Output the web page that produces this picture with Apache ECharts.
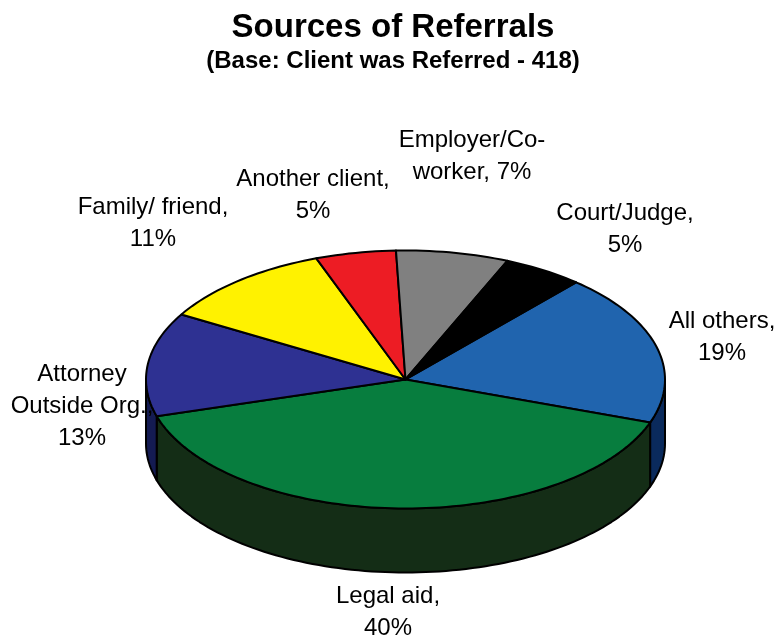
<!DOCTYPE html>
<html>
<head>
<meta charset="utf-8">
<style>html,body{margin:0;padding:0;background:#fff}#c{width:778px;height:637px}</style>
<script src="https://cdn.jsdelivr.net/npm/echarts@6/dist/echarts.min.js"></script>
</head>
<body>
<div id="c"></div>
<script>
const categories = ['All others', 'Legal aid', 'Attorney Outside Org.', 'Family/ friend', 'Another client', 'Employer/Co-worker', 'Court/Judge'];
const values = [19, 40, 13, 11, 5, 7, 5];
const labelTemplates = ['All others,\n{v}%', 'Legal aid,\n{v}%', 'Attorney\nOutside Org.,\n{v}%', 'Family/ friend,\n{v}%', 'Another client,\n{v}%', 'Employer/Co-\nworker, {v}%', 'Court/Judge,\n{v}%'];
const topColors = ['#2064AE', '#077D3E', '#2E3192', '#FFF200', '#ED1C24', '#808080', '#000000'];
const sideColors = ['#0A2A5C', '#142D16', '#141B52', '#7F7900', '#760E12', '#404040', '#000000'];
const labelCentres = [[722, 337], [388, 612], [82, 406], [153, 223], [313, 195], [472, 156], [625, 229]];

const CX = 405.5, CY = 379.5, RX = 259.5, RY = 129, DEPTH = 64, START = 48.9;
const total = values.reduce((a, b) => a + b, 0);
const pt = (deg, dy) => [CX + RX * Math.cos(deg * Math.PI / 180), CY + dy - RY * Math.sin(deg * Math.PI / 180)];
function arc(from, to, dy) {
  const n = Math.max(2, Math.ceil(Math.abs(to - from) / 1.5));
  const out = [];
  for (let i = 0; i <= n; i++) out.push(pt(from + (to - from) * i / n, dy));
  return out;
}
function renderItem(params, api) {
  const idx = params.dataIndex;
  let before = 0;
  for (let i = 0; i < idx; i++) before += values[i];
  const a0 = START - before / total * 360;
  const a1 = a0 - api.value(0) / total * 360;
  const stroke = { stroke: '#000', lineWidth: 2, lineJoin: 'round' };
  const children = [];
  const s0 = Math.min(a0, 0), s1 = Math.max(a1, -180);
  if (s0 > s1) {
    const front = arc(s0, s1, 0), back = arc(s1, s0, DEPTH);
    children.push({ type: 'polygon', shape: { points: front.concat(back) }, style: Object.assign({ fill: sideColors[idx] }, stroke) });
  }
  children.push({ type: 'polygon', shape: { points: [[CX, CY]].concat(arc(a0, a1, 0)) }, style: Object.assign({ fill: topColors[idx] }, stroke) });
  return { type: 'group', children };
}
const labelItem = (params, api) => ({
  type: 'text',
  x: labelCentres[params.dataIndex][0],
  y: labelCentres[params.dataIndex][1],
  style: {
    text: labelTemplates[params.dataIndex].replace('{v}', api.value(0)),
    fontFamily: '"Liberation Sans", Arial, sans-serif',
    fontSize: 24, lineHeight: 32, fill: '#000',
    align: 'center', verticalAlign: 'middle'
  }
});
const chart = echarts.init(document.getElementById('c'), null, { renderer: 'canvas' });
const seriesData = categories.map((name, i) => ({ name, value: [values[i]] }));
chart.setOption({
  animation: false,
  backgroundColor: '#fff',
  title: {
    text: 'Sources of Referrals',
    subtext: '(Base: Client was Referred - 418)',
    left: 388, top: 6, textAlign: 'center', itemGap: 5,
    textStyle: { fontFamily: '"Liberation Sans", Arial, sans-serif', fontSize: 33, fontWeight: 'bold', color: '#000' },
    subtextStyle: { fontFamily: '"Liberation Sans", Arial, sans-serif', fontSize: 24, fontWeight: 'bold', color: '#000' }
  },
  series: [
    { type: 'custom', coordinateSystem: 'none', renderItem, data: seriesData, silent: true },
    { type: 'custom', coordinateSystem: 'none', renderItem: labelItem, data: seriesData, silent: true, z: 3 }
  ]
});
</script>
</body>
</html>
